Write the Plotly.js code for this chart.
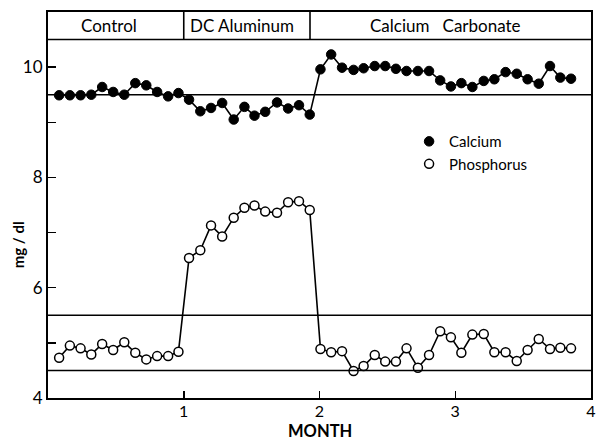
<!DOCTYPE html>
<html>
<head>
<meta charset="utf-8">
<script src="https://cdn.plot.ly/plotly-3.0.1.min.js"></script>
<style>html,body{margin:0;padding:0;background:#fff;}#chart{width:596px;height:442px;}</style>
</head>
<body>
<div id="chart"></div>
<script>
// Sampling times (months)
const months = [0.082,0.161,0.240,0.319,0.399,0.480,0.562,0.643,0.724,0.804,
  0.885,0.961,1.039,1.122,1.201,1.283,1.368,1.447,1.521,1.600,
  1.687,1.769,1.849,1.928,2.007,2.086,2.166,2.251,2.325,2.407,
  2.484,2.563,2.641,2.725,2.807,2.889,2.968,3.045,3.126,3.210,
  3.288,3.371,3.453,3.533,3.615,3.698,3.774,3.853];
// Serum calcium (mg/dl)
const calcium = [9.49,9.49,9.49,9.50,9.64,9.55,9.50,9.71,9.67,9.55,
  9.47,9.53,9.41,9.20,9.26,9.35,9.05,9.28,9.12,9.19,
  9.36,9.25,9.31,9.14,9.96,10.23,9.99,9.95,9.98,10.02,
  10.02,9.97,9.93,9.93,9.93,9.76,9.65,9.71,9.64,9.75,
  9.78,9.91,9.88,9.78,9.70,10.02,9.81,9.79];
// Serum phosphorus (mg/dl)
const phosphorus = [4.73,4.95,4.90,4.79,4.98,4.87,5.01,4.82,4.70,4.76,
  4.76,4.84,6.54,6.68,7.13,6.93,7.27,7.45,7.49,7.38,
  7.36,7.55,7.57,7.41,4.89,4.83,4.85,4.49,4.58,4.78,
  4.66,4.66,4.90,4.55,4.78,5.21,5.10,4.82,5.15,5.16,
  4.83,4.83,4.67,4.87,5.07,4.89,4.91,4.90];
const seriesNames = ['Calcium', 'Phosphorus'];
const xTickVals = [1, 2, 3, 4];
const xTickText = ['1', '2', '3', '4'];
const yTickVals = [4, 5, 6, 7, 8, 9, 10];
const yTickText = ['4', '', '6', '', '8', '', '10'];
const periodLabels = ['Control', 'DC Aluminum', 'Calcium\u00a0\u00a0\u00a0Carbonate'];
const periodCenters = [0.45, 1.43, 2.93];
const periodBounds = [1, 1.93];
const normalLines = [9.5, 5.5, 4.5];
const headerBottom = 10.5;
const xRange = [0, 4];
const yRange = [4, 11];

const FONT = 'Lato, "DejaVu Sans", sans-serif';
const lineStyle = {color: '#000', width: 1.6};

const traces = [
  {x: months, y: calcium, mode: 'lines', line: lineStyle, showlegend: false, hoverinfo: 'skip'},
  {x: months, y: phosphorus, mode: 'lines', line: lineStyle, showlegend: false, hoverinfo: 'skip'},
  {x: months, y: calcium, mode: 'markers', name: seriesNames[0],
   marker: {symbol: 'circle', size: 9.5, color: '#000', line: {color: '#000', width: 1}}},
  {x: months, y: phosphorus, mode: 'markers', name: seriesNames[1],
   marker: {symbol: 'circle', size: 9, color: '#fff', line: {color: '#000', width: 1.5}}}
];

const shapes = [];
normalLines.forEach(v => shapes.push({type: 'line', xref: 'paper', x0: 0, x1: 1, yref: 'y', y0: v, y1: v,
  line: {color: '#000', width: 1.4}}));
shapes.push({type: 'line', xref: 'paper', x0: 0, x1: 1, yref: 'y', y0: headerBottom, y1: headerBottom,
  line: {color: '#000', width: 1.6}});
periodBounds.forEach(b => shapes.push({type: 'line', xref: 'x', x0: b, x1: b, yref: 'y', y0: headerBottom, y1: yRange[1],
  line: {color: '#000', width: 1.6}}));

const annotations = periodLabels.map((t, i) => ({
  text: t, x: periodCenters[i], xref: 'x', y: (headerBottom + yRange[1]) / 2, yref: 'y',
  showarrow: false, font: {family: FONT, size: 17, color: '#000'}, xanchor: 'center', yanchor: 'middle'
}));
annotations.push({text: '<b>mg / dl</b>', textangle: -90, x: -0.056, xref: 'paper', y: 6.78, yref: 'y',
  showarrow: false, font: {family: FONT, size: 15, color: '#000'}, xanchor: 'center', yanchor: 'middle'});
annotations.push({text: '<b>MONTH</b>', x: 0.5, xref: 'paper', y: -0.086, yref: 'paper',
  showarrow: false, font: {family: FONT, size: 16.5, color: '#000'}, xanchor: 'center', yanchor: 'middle'});

const layout = {
  width: 596, height: 442,
  margin: {l: 48, r: 5, t: 12, b: 44},
  paper_bgcolor: '#fff', plot_bgcolor: '#fff',
  font: {family: FONT, size: 16, color: '#000'},
  xaxis: {
    range: xRange, tickvals: xTickVals, ticktext: xTickText,
    ticks: 'inside', ticklen: 7, tickwidth: 1.5, tickcolor: '#000',
    showline: true, linecolor: '#000', linewidth: 2, mirror: true,
    showgrid: false, zeroline: false, ticklabeloverflow: 'allow',
    ticklabelstandoff: -2,
    tickfont: {family: FONT, size: 16, color: '#000'}
  },
  yaxis: {
    range: yRange, tickvals: yTickVals, ticktext: yTickText,
    ticks: 'inside', ticklen: 8, tickwidth: 1.5, tickcolor: '#000',
    showline: true, linecolor: '#000', linewidth: 2, mirror: true,
    showgrid: false, zeroline: false,
    tickfont: {family: FONT, size: 17, color: '#000'}
  },
  legend: {x: 0.665, xanchor: 'left', y: 0.707, yanchor: 'top', bgcolor: 'rgba(0,0,0,0)',
    font: {family: FONT, size: 15, color: '#000'}, tracegroupgap: 0, itemwidth: 30},
  shapes: shapes,
  annotations: annotations,
  showlegend: true
};

Plotly.newPlot('chart', traces, layout, {displayModeBar: false, staticPlot: true});
</script>
</body>
</html>
